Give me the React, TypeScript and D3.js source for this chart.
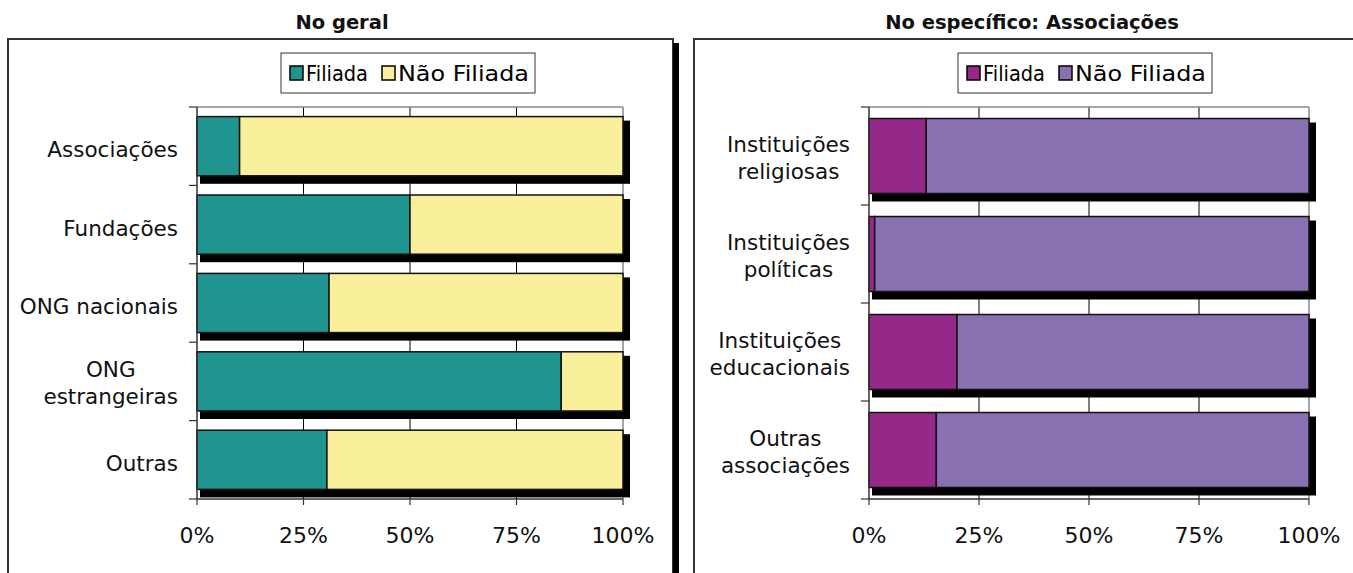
import React from "react";
import * as d3 from "d3";

// categories and values (percent)
const leftCats = [["Associações"], ["Fundações"], ["ONG nacionais"], ["ONG", "estrangeiras"], ["Outras"]];
const leftFiliada = [10, 50, 31, 85.5, 30.5];
const leftNaoFiliada = [90, 50, 69, 14.5, 69.5];

const rightCats = [["Instituições", "religiosas"], ["Instituições", "políticas"], ["Instituições", "educacionais"], ["Outras", "associações"]];
const rightFiliada = [13, 1.3, 20, 15.3];
const rightNaoFiliada = [87, 98.7, 80, 84.7];

const ticks = [0, 25, 50, 75, 100];
const tickLabels = ["0%", "25%", "50%", "75%", "100%"];
const seriesNames = ["Filiada", "Não Filiada"];

const FONT = "DejaVu Sans";

function measure(txt, size) {
    const ctx = document.createElement("canvas").getContext("2d");
    ctx.font = `${size}px "${FONT}"`;
    return ctx.measureText(txt).width;
}

function Panel({ cats, filiada, naoFiliada, colors, title, titleX, box, plot, padding, legendX, labelRight }) {
    const data = cats.map((c, i) => ({ key: i, Filiada: filiada[i], "Não Filiada": naoFiliada[i] }));
    const stacked = d3.stack().keys(seriesNames)(data);

    const x = d3.scaleLinear().domain([0, 100]).range([plot.x0, plot.x1]);
    const y = d3
        .scaleBand()
        .domain(d3.range(cats.length))
        .range([plot.y0, plot.y1])
        .paddingInner(padding)
        .paddingOuter(padding / 2);
    const step = y.step();
    const bounds = d3.range(cats.length + 1).map((i) => plot.y0 + i * step);
    const labelSize = 21.5;

    return (
        <g>
            <text x={titleX} y={29} textAnchor="middle" fontFamily={FONT} fontWeight="bold" fontSize={19.5} fill="#111">
                {title}
            </text>
            {/* panel frame */}
            <rect x={box.x} y={box.y} width={box.w} height={box.h} fill="#fff" stroke="#333" strokeWidth={2} />
            {box.shadow && <rect x={box.x + box.w} y={box.y + 4} width={6} height={box.h} fill="#000" />}

            {/* legend */}
            <g transform={`translate(${legendX},53)`}>
                <rect x={0} y={0} width={254} height={40} fill="#fff" stroke="#333" strokeWidth={1} />
                <rect x={9} y={13} width={13} height={14} fill={colors[0]} stroke="#000" strokeWidth={1.5} />
                <text x={25} y={28} fontFamily={FONT} fontSize={22} textLength={62} lengthAdjust="spacingAndGlyphs">
                    {seriesNames[0]}
                </text>
                <rect x={101} y={13} width={13} height={14} fill={colors[1]} stroke="#000" strokeWidth={1.5} />
                <text x={117} y={28} fontFamily={FONT} fontSize={22} textLength={131} lengthAdjust="spacingAndGlyphs">
                    {seriesNames[1]}
                </text>
            </g>

            {/* gridlines */}
            {ticks.slice(1, -1).map((t) => (
                <line key={t} x1={x(t)} x2={x(t)} y1={plot.y0} y2={plot.y1} stroke="#000" strokeWidth={1} />
            ))}
            <line x1={plot.x0} x2={plot.x1} y1={plot.y0} y2={plot.y0} stroke="#888" strokeWidth={1.5} />
            <line x1={plot.x1} x2={plot.x1} y1={plot.y0} y2={plot.y1} stroke="#888" strokeWidth={1.5} />

            {/* shadows */}
            {data.map((d, i) => (
                <rect key={i} x={x(0) + 3} y={y(i) + 4} width={x(100) - x(0) + 4} height={y.bandwidth() + 4} fill="#000" />
            ))}

            {/* bars */}
            {stacked.map((s, si) =>
                s.map((d, i) => (
                    <rect
                        key={si + "-" + i}
                        x={x(d[0])}
                        y={y(i)}
                        width={x(d[1]) - x(d[0])}
                        height={y.bandwidth()}
                        fill={colors[si]}
                        stroke="#111"
                        strokeWidth={1.5}
                    />
                ))
            )}

            {/* axes */}
            <line x1={plot.x0} x2={plot.x0} y1={plot.y0} y2={plot.y1} stroke="#333" strokeWidth={1.5} />
            <line x1={plot.x0} x2={plot.x1} y1={plot.y1} y2={plot.y1} stroke="#333" strokeWidth={1.5} />
            {bounds.map((b, i) => (
                <line key={i} x1={plot.x0 - 8} x2={plot.x0} y1={b} y2={b} stroke="#333" strokeWidth={1.2} />
            ))}
            {ticks.map((t, i) => (
                <g key={t}>
                    <line x1={x(t)} x2={x(t)} y1={plot.y1} y2={plot.y1 + 6} stroke="#333" strokeWidth={1.2} />
                    <text x={x(t)} y={543} textAnchor="middle" fontFamily={FONT} fontSize={22} fill="#111">
                        {tickLabels[i]}
                    </text>
                </g>
            ))}

            {/* category labels */}
            {cats.map((lines, i) => {
                const cy = y(i) + y.bandwidth() / 2;
                if (lines.length === 1) {
                    return (
                        <text key={i} x={labelRight} y={cy + 11} textAnchor="end" fontFamily={FONT} fontSize={labelSize} fill="#111">
                            {lines[0]}
                        </text>
                    );
                }
                const w = d3.max(lines, (l) => measure(l, labelSize));
                const cx = labelRight - w / 2;
                const lh = 27;
                return (
                    <text key={i} textAnchor="middle" fontFamily={FONT} fontSize={labelSize} fill="#111">
                        {lines.map((l, j) => (
                            <tspan key={j} x={cx} y={cy + 9.5 + (j - (lines.length - 1) / 2) * lh}>
                                {l}
                            </tspan>
                        ))}
                    </text>
                );
            })}
        </g>
    );
}

export default function App() {
    return (
        <svg width={1353} height={573} style={{ position: "absolute", left: 0, top: 0, background: "#fff" }}>
            <Panel
                cats={leftCats}
                filiada={leftFiliada}
                naoFiliada={leftNaoFiliada}
                colors={["#20948F", "#FAF09C"]}
                title="No geral"
                titleX={342}
                box={{ x: 8, y: 39, w: 665, h: 560, shadow: true }}
                plot={{ x0: 197, x1: 623, y0: 107, y1: 499 }}
                padding={0.245}
                legendX={281}
                labelRight={178}
            />
            <Panel
                cats={rightCats}
                filiada={rightFiliada}
                naoFiliada={rightNaoFiliada}
                colors={["#962889", "#8970B0"]}
                title="No específico: Associações"
                titleX={1032}
                box={{ x: 694, y: 39, w: 700, h: 560, shadow: false }}
                plot={{ x0: 869, x1: 1309, y0: 107, y1: 499 }}
                padding={0.235}
                legendX={958}
                labelRight={850}
            />
        </svg>
    );
}
